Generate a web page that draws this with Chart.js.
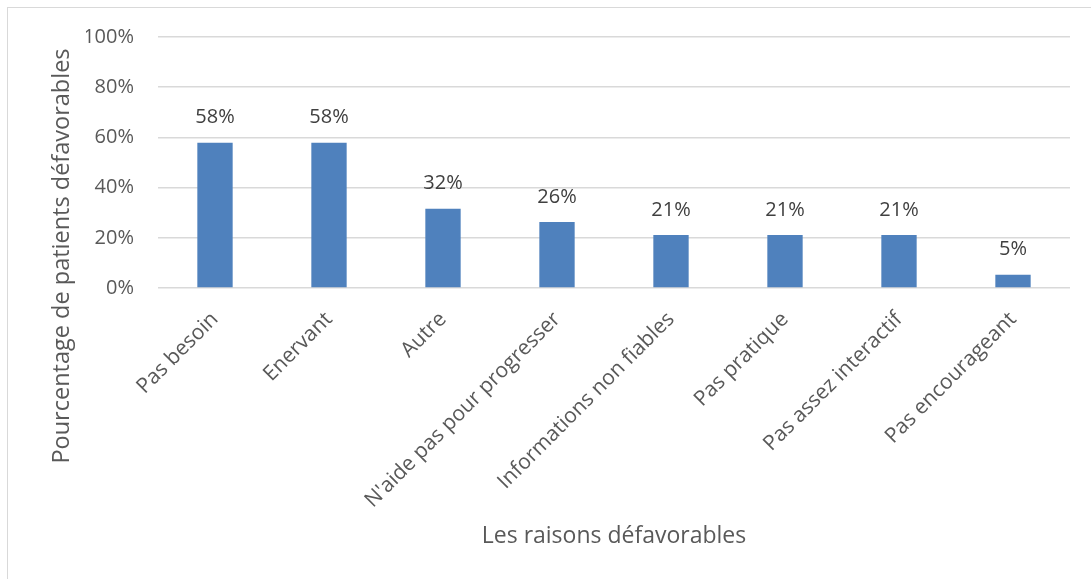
<!DOCTYPE html>
<html><head><meta charset="utf-8">
<script src="https://cdn.jsdelivr.net/npm/chart.js@4"></script>
<style>
html,body{margin:0;padding:0;background:#fff;overflow:hidden}
#wrap{position:relative;width:1091px;height:579px}
#frame{position:absolute;left:7px;top:7px;width:1100px;height:600px;border:1px solid #d9d9d9;box-sizing:border-box;pointer-events:none}
canvas{position:absolute;left:0;top:0}
</style></head><body>
<div id="wrap"><canvas id="c" width="1091" height="579"></canvas><div id="frame"></div></div>
<script>
const categories = ['Pas besoin', 'Enervant', 'Autre', "N'aide pas pour progresser", 'Informations non fiables', 'Pas pratique', 'Pas assez interactif', 'Pas encourageant'];
const values = [57.9, 57.9, 31.6, 26.3, 21.1, 21.1, 21.1, 5.3];
const valueLabels = ['58%', '58%', '32%', '26%', '21%', '21%', '21%', '5%'];
const yMin = 0, yMax = 100, yStep = 20;
const yTitle = 'Pourcentage de patients défavorables';
const xTitle = 'Les raisons défavorables';

const FONT = '"Open Sans", "DejaVu Sans", sans-serif';
const TEXT = '#595959';

const dataLabels = {
  id: 'dataLabels',
  afterDatasetsDraw(chart) {
    const ctx = chart.ctx;
    const meta = chart.getDatasetMeta(0);
    ctx.save();
    ctx.font = '20px ' + FONT;
    ctx.fillStyle = '#404040';
    ctx.textAlign = 'center';
    ctx.textBaseline = 'middle';
    meta.data.forEach((bar, i) => ctx.fillText(valueLabels[i], bar.x, bar.y - 25));
    ctx.restore();
  }
};

function draw() {
  new Chart(document.getElementById('c'), {
    type: 'bar',
    data: {
      labels: categories,
      datasets: [{
        data: values,
        backgroundColor: '#4F81BD',
        borderWidth: 0,
        barPercentage: 0.31,
        categoryPercentage: 1
      }]
    },
    options: {
      responsive: false,
      animation: false,
      devicePixelRatio: 1,
      layout: { padding: { top: 0, left: 10, right: 21, bottom: 67 } },
      plugins: {
        legend: { display: false },
        tooltip: { enabled: false },
        title: {
          display: true,
          position: 'left',
          text: yTitle,
          color: TEXT,
          font: { family: FONT, size: 23.5, weight: 'normal' },
          padding: { top: 37.9, bottom: 10 }
        },
        subtitle: {
          display: true,
          position: 'top',
          text: '',
          font: { size: 1 },
          padding: { top: 0, bottom: 35.8 }
        }
      },
      scales: {
        x: {
          grid: { display: false },
          border: { display: false },
          ticks: {
            color: TEXT,
            font: { family: FONT, size: 21 },
            minRotation: 45,
            maxRotation: 45,
            autoSkip: false,
            padding: 11
          },
          title: {
            display: true,
            text: xTitle,
            color: TEXT,
            font: { family: FONT, size: 23 },
            padding: { top: 0, bottom: -37.8 }
          },
          afterFit(scale) { scale.height = 224; }
        },
        y: {
          min: yMin,
          max: yMax,
          grid: { color: '#d9d9d9', lineWidth: 1.5, drawTicks: false },
          border: { display: false },
          ticks: {
            stepSize: yStep,
            color: TEXT,
            font: { family: FONT, size: 20 },
            padding: 24,
            callback: v => v + '%'
          },
          afterFit(scale) { scale.width = 71.9; }
        }
      }
    },
    plugins: [dataLabels]
  });
}
if (document.fonts && document.fonts.load) {
  Promise.all([document.fonts.load('20px "Open Sans"')]).then(draw, draw);
} else { draw(); }
</script>
</body></html>
